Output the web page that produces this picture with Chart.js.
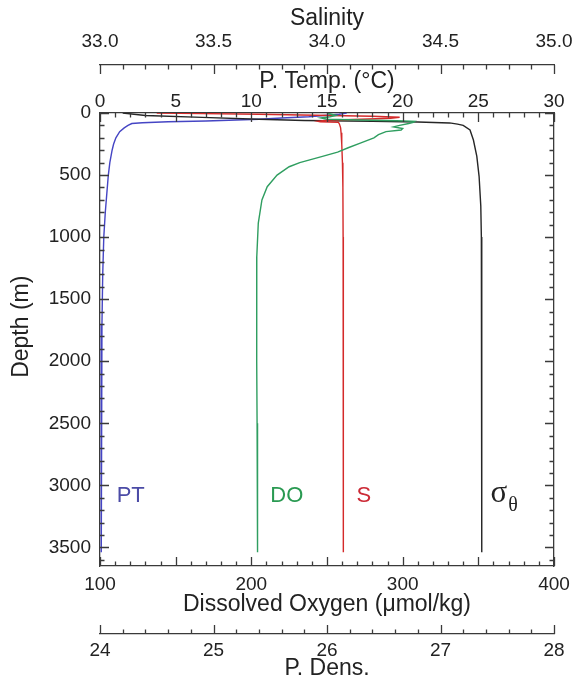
<!DOCTYPE html>
<html>
<head>
<meta charset="utf-8">
<title>CTD profile</title>
<script src="https://cdn.jsdelivr.net/npm/chart.js@4.4.1/dist/chart.umd.min.js"></script>
<style>
  html,body{margin:0;padding:0;background:#fff;}
</style>
</head>
<body>
<canvas id="profile" width="585" height="682"></canvas>
<script>
/****************************************************
 * profile â€” PT / S / DO / sigma-theta vs depth
 ****************************************************/

/* ----------------- Data ----------------- */
const ptDepth = [0, 10, 20, 30, 40, 50, 58, 64, 70, 78, 85, 100, 120, 150, 200, 250, 300, 400, 500, 650, 800, 1000, 1300, 1700, 2200, 2800, 3540];
const ptValue = [16.3, 15.8, 14.8, 13.8, 12.0, 10.5, 8.5, 7.0, 4.5, 2.8, 2.1, 1.85, 1.6, 1.3, 1.05, 0.9, 0.8, 0.65, 0.55, 0.45, 0.35, 0.25, 0.18, 0.13, 0.10, 0.08, 0.07];

const salDepth = [0, 5, 10, 18, 26, 34, 42, 50, 58, 66, 70, 74, 90, 120, 160, 250, 400, 600, 1000, 2000, 3540];
const salValue = [33.25, 33.45, 33.7, 33.95, 34.2, 34.32, 34.28, 34.15, 34.0, 33.96, 33.97, 34.05, 34.055, 34.06, 34.062, 34.065, 34.068, 34.07, 34.071, 34.072, 34.072];

const doDepth = [0, 10, 20, 30, 40, 50, 56, 62, 67, 75, 85, 100, 112, 125, 137, 150, 175, 200, 242, 280, 315, 350, 380, 400, 433, 500, 594, 700, 887, 1157, 1500, 2000, 2500, 3000, 3540];
const doValue = [250, 253, 256, 252, 246, 250, 272, 296, 308, 307, 304, 298, 294, 300, 299, 289, 284, 281, 272, 264, 257, 247, 238, 232, 225, 217, 210.5, 207, 204.6, 203.6, 203.5, 203.6, 203.8, 204, 204.2];

const sigDepth = [0, 20, 35, 50, 60, 66, 72, 80, 90, 100, 137, 218, 350, 510, 750, 1000, 2000, 3540];
const sigValue = [24.2, 24.4, 24.9, 25.4, 25.8, 26.4, 26.8, 27.08, 27.15, 27.2, 27.26, 27.29, 27.32, 27.34, 27.355, 27.36, 27.362, 27.365];

/* axis ranges / tick labels */
const depthRange = [0, 3650];   const depthTicks = [0, 500, 1000, 1500, 2000, 2500, 3000, 3500];
const tempRange  = [0, 30];     const tempTicks  = [0, 5, 10, 15, 20, 25, 30];
const salRange   = [33, 35];    const salTicks   = [33.0, 33.5, 34.0, 34.5, 35.0];
const doRange    = [100, 400];  const doTicks    = [100, 200, 300, 400];
const densRange  = [24, 28];    const densTicks  = [24, 25, 26, 27, 28];

/* in-plot labels: [text, sub, axis, value, depth, colour] */
const seriesLabels = [
  ['PT', '', 'x', 1.1, 3065, '#4b4ba6'],
  ['DO', '', 'do', 212.5, 3065, '#2a9a52'],
  ['S', '', 'sal', 34.13, 3065, '#cc2a36'],
  ['\u03c3', '\u03b8', 'dens', 27.44, 3065, '#222']
];

/* ----------------- Helpers ----------------- */
const $ = id => document.getElementById(id);
const pairs = (xs, ds) => xs.map((v, i) => ({ x: v, y: ds[i] }));
const INK = '#222';
const AXIS = '#3a3a3a';
const FONT = "'Liberation Sans', Arial, Helvetica, sans-serif";

Chart.defaults.font.family = FONT;
Chart.defaults.color = INK;

/* inward tick marks (minor + major) for every axis */
const tickSpec = [
  { id: 'y',    minor: 100, major: 500, edge: 'right',  dir:  1 },
  { id: 'y2',   minor: 100, major: 500, edge: 'left',   dir: -1 },
  { id: 'x',    minor: 1,   major: 5,   edge: 'bottom', dir:  1 },
  { id: 'sal',  minor: 0.1, major: 0.5, edge: 'bottom', dir:  1 },
  { id: 'do',   minor: 10,  major: 50,  edge: 'top',    dir: -1 },
  { id: 'dens', minor: 0.2, major: 1,   edge: 'top',    dir: -1 }
];

const tickMarks = {
  id: 'tickMarks',
  afterDraw(chart) {
    const ctx = chart.ctx;
    ctx.save();
    ctx.strokeStyle = AXIS; ctx.lineWidth = 1.3;
    tickSpec.forEach(t => {
      const s = chart.scales[t.id]; if (!s) return;
      const n = Math.floor((s.max - s.min) / t.minor + 1e-6);
      ctx.beginPath();
      for (let i = 0; i <= n; i++) {
        const v = s.min + i * t.minor;
        const r = v / t.major;
        const len = Math.abs(r - Math.round(r)) < 1e-6 ? 9 : 4.5;
        const p = Math.round(s.getPixelForValue(v)) + 0.5;
        const e = s[t.edge];
        if (s.isHorizontal()) { ctx.moveTo(p, e); ctx.lineTo(p, e + t.dir * len); }
        else { ctx.moveTo(e, p); ctx.lineTo(e + t.dir * len, p); }
      }
      ctx.stroke();
    });
    ctx.restore();
  }
};

/* series names written inside the plot */
const inPlotLabels = {
  id: 'inPlotLabels',
  afterDraw(chart) {
    const ctx = chart.ctx, y = chart.scales.y;
    ctx.save();
    ctx.textBaseline = 'alphabetic'; ctx.textAlign = 'left';
    seriesLabels.forEach(([txt, sub, axis, val, dep, col]) => {
      const px = chart.scales[axis].getPixelForValue(val);
      const py = y.getPixelForValue(dep) + 9;
      ctx.fillStyle = col;
      if (sub) {
        ctx.font = "31px 'Liberation Serif', 'DejaVu Serif', serif";
        ctx.fillText(txt, px, py);
        const w = ctx.measureText(txt).width;
        ctx.font = "20px 'Liberation Serif', 'DejaVu Serif', serif";
        ctx.fillText(sub, px + w + 1, py + 9);
      } else {
        ctx.font = '22px ' + FONT;
        ctx.fillText(txt, px, py);
      }
    });
    ctx.restore();
  }
};

/* ----------------- Scales ----------------- */
function axisBase(range, values, digits, extra) {
  return Object.assign({
    type: 'linear', min: range[0], max: range[1], bounds: 'data',
    grid: { display: false, drawTicks: false, drawOnChartArea: false },
    border: { display: true, color: AXIS, width: 1.3 },
    // put the ticks exactly on the listed values
    afterBuildTicks: s => { s.ticks = values.map(v => ({ value: v })); },
    ticks: {
      autoSkip: false, maxRotation: 0,
      font: { size: 19 }, color: INK,
      callback: v => Number(v).toFixed(digits)
    }
  }, extra);
}
function title(text, pad) {
  return { display: true, text, color: INK, font: { size: 23 }, padding: pad };
}

const scales = {
  y: axisBase(depthRange, depthTicks, 0, {
    position: 'left', reverse: true,
    title: title('    Depth (m)', { top: 8, bottom: 0 }),
    afterFit: s => { s.width = 100; }
  }),
  y2: axisBase(depthRange, depthTicks, 0, {
    position: 'right', reverse: true,
    afterFit: s => { s.width = 31; }
  }),
  x: axisBase(tempRange, tempTicks, 0, {
    position: 'top', weight: 0,
    title: title('P. Temp. (\u00b0C)', { top: 3, bottom: 0 }),
    afterFit: s => { s.height = 48; }
  }),
  sal: axisBase(salRange, salTicks, 1, {
    position: 'top', weight: 1,
    title: title('Salinity', { top: 5, bottom: 0 }),
    afterFit: s => { s.height = 65; }
  }),
  do: axisBase(doRange, doTicks, 0, {
    position: 'bottom', weight: 0,
    title: title('Dissolved Oxygen (\u03bcmol/kg)', { top: 0, bottom: 16 }),
    afterFit: s => { s.height = 68; }
  }),
  dens: axisBase(densRange, densTicks, 0, {
    position: 'bottom', weight: 1,
    title: title('P. Dens.', { top: 0, bottom: 0 }),
    afterFit: s => { s.height = 48; }
  })
};
scales.y.ticks.padding = 9;
scales.y2.ticks.display = false;
scales.x.ticks.padding = 0;
scales.sal.ticks.padding = 12;
scales.do.ticks.padding = 7;
scales.dens.ticks.padding = 5;

/* ----------------- Chart ----------------- */
function series(label, xs, ds, axis, colour) {
  return {
    label, data: pairs(xs, ds), xAxisID: axis, yAxisID: 'y',
    showLine: true, borderColor: colour, borderWidth: 1.4,
    pointRadius: 0, pointHoverRadius: 0, tension: 0, fill: false
  };
}

new Chart($('profile'), {
  type: 'scatter',
  data: {
    datasets: [
      series('DO', doValue, doDepth, 'do', '#2f9e60'),
      series('S', salValue, salDepth, 'sal', '#d42a2a'),
      series('sigma-theta', sigValue, sigDepth, 'dens', '#262626'),
      series('PT', ptValue, ptDepth, 'x', '#4545c4')
    ]
  },
  options: {
    responsive: false, animation: false,
    layout: { padding: 0 },
    plugins: { legend: { display: false }, tooltip: { enabled: false } },
    scales
  },
  plugins: [tickMarks, inPlotLabels]
});
</script>
</body>
</html>
